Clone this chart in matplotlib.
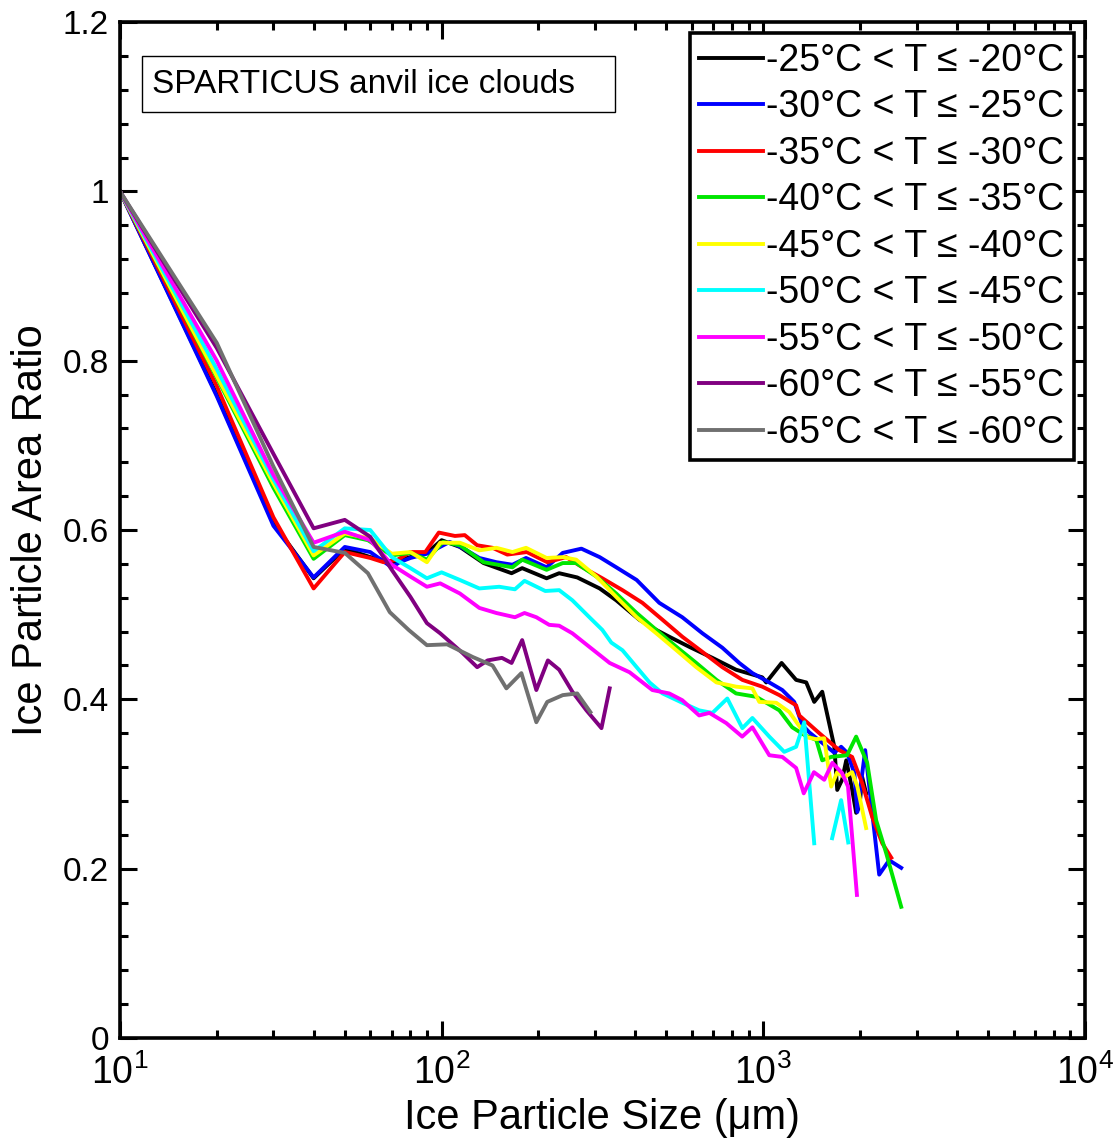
"""
Ice particle area ratio vs particle size, SPARTICUS anvil ice clouds,
binned by temperature (5 degC bins).
"""

import matplotlib
matplotlib.use("Agg")
import matplotlib.pyplot as plt
from matplotlib.patches import Rectangle
from matplotlib.ticker import MultipleLocator, LogLocator, NullFormatter
import numpy as np

plt.rcParams["font.family"] = ["Liberation Sans", "DejaVu Sans"]
plt.rcParams["mathtext.default"] = "regular"

LABELS = [
    "-25\u00b0C < T \u2264 -20\u00b0C",
    "-30\u00b0C < T \u2264 -25\u00b0C",
    "-35\u00b0C < T \u2264 -30\u00b0C",
    "-40\u00b0C < T \u2264 -35\u00b0C",
    "-45\u00b0C < T \u2264 -40\u00b0C",
    "-50\u00b0C < T \u2264 -45\u00b0C",
    "-55\u00b0C < T \u2264 -50\u00b0C",
    "-60\u00b0C < T \u2264 -55\u00b0C",
    "-65\u00b0C < T \u2264 -60\u00b0C",
]
COLORS = ["#000000", "#0000ff", "#ff0000", "#00e600", "#ffff00",
          "#00ffff", "#ff00ff", "#800080", "#707070"]

# size (um) / area ratio
x_m25 = [10, 20, 30, 40, 50, 60, 70, 80, 90, 100, 114, 135, 165, 178, 212, 232, 264,
         310, 349, 412, 465, 510, 589, 695, 823, 993, 1021, 1140, 1265, 1360, 1440,
         1525, 1663, 1698, 1758, 1811, 1890, 1944, 1990, 2030, 2088]
y_m25 = [1.0, 0.76, 0.608, 0.543, 0.578, 0.568, 0.562, 0.568, 0.573, 0.588, 0.580, 0.561,
         0.549, 0.555, 0.543, 0.549, 0.544, 0.531, 0.517, 0.494, 0.482, 0.474, 0.462,
         0.449, 0.435, 0.426, 0.42, 0.443, 0.423, 0.42, 0.397, 0.409, 0.344, 0.293,
         0.305, 0.328, 0.293, 0.266, 0.273, 0.308, 0.289]

x_m30 = [10, 20, 30, 40, 50, 60, 70, 74, 80, 90, 106, 116, 131, 148, 166, 183, 212,
         238, 272, 310, 349, 404, 475, 560, 647, 746, 842, 925, 1044, 1146, 1248, 1321,
         1390, 1603, 1663, 1746, 1822, 1919, 1961, 2074, 2293, 2462, 2684]
y_m30 = [1.0, 0.758, 0.605, 0.544, 0.58, 0.574, 0.556, 0.562, 0.567, 0.572, 0.586, 0.579,
         0.567, 0.562, 0.559, 0.567, 0.556, 0.573, 0.578, 0.568, 0.556, 0.541, 0.514,
         0.497, 0.478, 0.461, 0.443, 0.431, 0.42, 0.411, 0.397, 0.37, 0.361, 0.342,
         0.337, 0.344, 0.337, 0.313, 0.267, 0.34, 0.193, 0.21, 0.201]

x_m35 = [10, 20, 30, 40, 50, 60, 66, 73, 80, 89, 98, 110, 118, 129, 144, 160, 184, 213,
         244, 274, 316, 365, 421, 486, 560, 647, 746, 861, 993, 1122, 1265, 1294, 1494,
         1722, 1889, 2030, 2181, 2344, 2500]
y_m35 = [1.0, 0.77, 0.615, 0.531, 0.574, 0.567, 0.562, 0.565, 0.574, 0.574, 0.597, 0.593,
         0.594, 0.582, 0.579, 0.571, 0.574, 0.562, 0.568, 0.556, 0.543, 0.529, 0.514,
         0.494, 0.474, 0.456, 0.438, 0.423, 0.415, 0.405, 0.393, 0.381, 0.36, 0.34,
         0.332, 0.301, 0.261, 0.230, 0.213]

x_m40 = [10, 20, 30, 40, 50, 59, 70, 80, 90, 101, 114, 135, 166, 178, 212, 238, 262,
         303, 349, 404, 465, 537, 619, 715, 823, 951, 1122, 1230, 1341, 1462, 1525,
         1626, 1822, 1944, 2104, 2244, 2412, 2684]
y_m40 = [1.0, 0.78, 0.65, 0.566, 0.594, 0.588, 0.570, 0.573, 0.565, 0.586, 0.582, 0.562,
         0.556, 0.565, 0.553, 0.561, 0.561, 0.545, 0.525, 0.502, 0.482, 0.462, 0.443,
         0.423, 0.407, 0.403, 0.387, 0.367, 0.358, 0.352, 0.328, 0.332, 0.334, 0.356,
         0.325, 0.257, 0.218, 0.155]

x_m45 = [10, 20, 30, 40, 50, 60, 70, 80, 90, 99, 114, 131, 148, 166, 183, 212, 238,
         262, 303, 349, 404, 465, 537, 619, 715, 823, 925, 972, 1097, 1205, 1370, 1462,
         1546, 1626, 1698, 1786, 1889, 1961, 2088]
y_m45 = [1.0, 0.782, 0.655, 0.57, 0.596, 0.59, 0.572, 0.574, 0.562, 0.585, 0.585, 0.576,
         0.579, 0.574, 0.579, 0.567, 0.568, 0.565, 0.545, 0.521, 0.497, 0.478, 0.458,
         0.438, 0.420, 0.415, 0.413, 0.397, 0.396, 0.385, 0.355, 0.353, 0.354, 0.297,
         0.314, 0.308, 0.314, 0.297, 0.248]

x_m50 = [10, 20, 30, 40, 50, 60, 70, 80, 90, 100, 114, 131, 151, 169, 181, 210, 232,
         255, 288, 316, 337, 365, 404, 443, 486, 560, 632, 695, 773, 861, 925, 1044,
         1162, 1265, 1341, 1440, 1540, 1637, 1746, 1837]
y_m50 = [1.0, 0.79, 0.66, 0.575, 0.602, 0.60, 0.568, 0.555, 0.543, 0.55, 0.541, 0.531,
         0.533, 0.53, 0.54, 0.528, 0.529, 0.517, 0.497, 0.482, 0.467, 0.458, 0.438,
         0.42, 0.407, 0.396, 0.387, 0.384, 0.401, 0.366, 0.378, 0.356, 0.338, 0.344,
         0.373, 0.23, np.nan, 0.236, 0.281, 0.231]

x_m55 = [10, 20, 30, 40, 50, 60, 70, 80, 90, 99, 114, 131, 148, 169, 181, 197, 216,
         232, 255, 288, 333, 384, 452, 510, 560, 632, 680, 767, 860, 925, 1044, 1146,
         1265, 1336, 1437, 1547, 1640, 1758, 1834, 1955]
y_m55 = [1.0, 0.80, 0.665, 0.585, 0.598, 0.588, 0.559, 0.545, 0.533, 0.537, 0.525,
         0.508, 0.502, 0.497, 0.502, 0.497, 0.488, 0.487, 0.478, 0.462, 0.443, 0.432,
         0.411, 0.407, 0.399, 0.381, 0.384, 0.372, 0.356, 0.367, 0.334, 0.332, 0.319,
         0.289, 0.314, 0.305, 0.325, 0.313, 0.297, 0.169]

x_m60 = [10, 20, 30, 40, 50, 60, 70, 80, 90, 99, 116, 129, 139, 154, 165, 178, 197,
         214, 232, 255, 282, 314, 333]
y_m60 = [1.0, 0.815, 0.69, 0.602, 0.612, 0.592, 0.553, 0.521, 0.49, 0.478, 0.455,
         0.438, 0.446, 0.449, 0.443, 0.47, 0.411, 0.446, 0.435, 0.409, 0.387, 0.366,
         0.413]

x_m65 = [10, 20, 30, 40, 50, 59, 69, 79, 90, 104, 125, 144, 159, 177, 197, 213, 238,
         264, 290]
y_m65 = [1.0, 0.821, 0.675, 0.58, 0.573, 0.549, 0.503, 0.482, 0.464, 0.465, 0.45,
         0.44, 0.413, 0.431, 0.373, 0.397, 0.405, 0.407, 0.385]

SERIES = [(x_m25, y_m25), (x_m30, y_m30), (x_m35, y_m35), (x_m40, y_m40),
          (x_m45, y_m45), (x_m50, y_m50), (x_m55, y_m55), (x_m60, y_m60),
          (x_m65, y_m65)]


def main():
    fig = plt.figure(figsize=(11.2, 11.48), dpi=100)
    ax = fig.add_axes([0.1071, 0.0958, 0.8616, 0.885])

    for (x, y), c, lab in zip(SERIES, COLORS, LABELS):
        ax.plot(x, y, color=c, lw=2.8, label=lab)

    ax.set_xscale("log")
    ax.set_xlim(10, 1e4)
    ax.set_ylim(0, 1.2)
    ax.yaxis.set_minor_locator(MultipleLocator(0.04))
    ax.set_yticks([0, 0.2, 0.4, 0.6, 0.8, 1.0, 1.2])
    ax.set_yticklabels(["0", "0.2", "0.4", "0.6", "0.8", "1", "1.2"])
    ax.xaxis.set_major_locator(LogLocator(base=10))
    ax.xaxis.set_minor_locator(LogLocator(base=10, subs=np.arange(2, 10)))
    ax.xaxis.set_minor_formatter(NullFormatter())

    for s in ax.spines.values():
        s.set_linewidth(2.6)
    ax.tick_params(which="both", direction="in", top=True, right=True, width=2.2)
    ax.tick_params(which="major", length=12)
    ax.tick_params(which="minor", length=6)
    ax.tick_params(axis="y", labelsize=24, pad=8)
    ax.tick_params(axis="x", labelsize=27, pad=12)

    ax.set_xlabel("Ice Particle Size (\u03bcm)", fontsize=30, labelpad=4)
    ax.set_ylabel("Ice Particle Area Ratio", fontsize=30, labelpad=8)

    # annotation box (wider than the text, as in the original)
    ax.add_patch(Rectangle((0.0228, 0.9114), 0.4902, 0.0551, transform=ax.transAxes,
                           fc="white", ec="black", lw=1.0, zorder=5))
    ax.text(0.033, 0.9389, "SPARTICUS anvil ice clouds", transform=ax.transAxes,
            fontsize=24, va="center", ha="left", zorder=6)

    leg = ax.legend(loc="upper right", fontsize=27, frameon=True, fancybox=False,
                    handlelength=1.7, handletextpad=0.08, labelspacing=0.28,
                    borderpad=0.25, borderaxespad=0.3, framealpha=1)
    leg.get_frame().set_edgecolor("black")
    leg.get_frame().set_linewidth(2.6)

    fig.savefig("out.png", dpi=100)


if __name__ == "__main__":
    main()
